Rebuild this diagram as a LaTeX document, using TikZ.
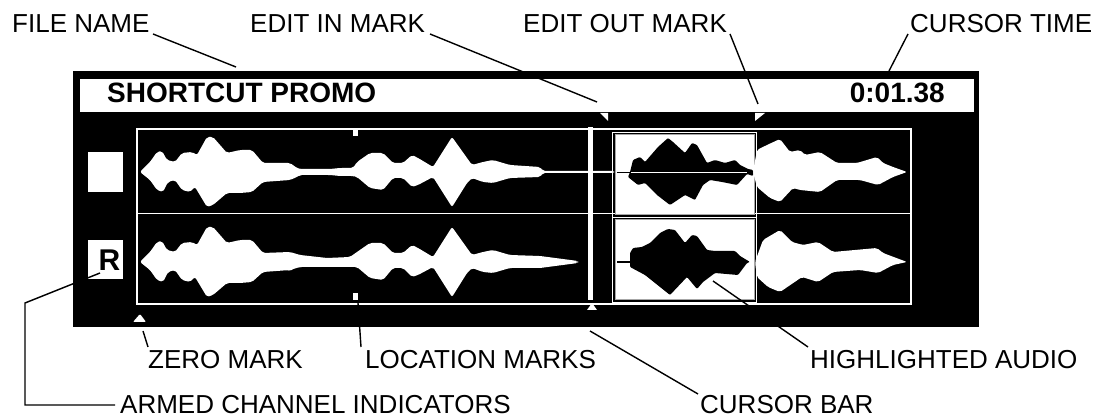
\documentclass[tikz,border=0pt]{standalone}
\usepackage{fontspec}
\setmainfont{Liberation Sans}
\begin{document}
\begin{tikzpicture}[x=1pt,y=-1pt,
  lbl/.style={font=\fontsize{26}{30}\selectfont, inner sep=0, anchor=base west},
  hdr/.style={font=\bfseries\fontsize{28}{32}\selectfont, inner sep=0},
  leader/.style={line width=1.4pt, draw=black},
  wave/.style={fill=white, draw=none, rounded corners=2pt},
  blob/.style={fill=black, draw=none, rounded corners=1pt},
  frameline/.style={draw=white, line width=1.6pt},
  hibox/.style={fill=white, draw=gray!70, line width=1pt},
  ring/.style={draw=white, line width=1pt},
  wmark/.style={fill=white, draw=none}]
\useasboundingbox (0,0) rectangle (1096,419);

% main panel
\fill[black] (73,71) rectangle (979,327);
\node[fill=white, inner sep=0, minimum width=894pt, minimum height=33pt, anchor=north west] (header) at (80,79) {};
\node[hdr, anchor=base west] (title) at (107,103) {SHORTCUT PROMO};
\node[hdr, anchor=base east] (time) at (945,103) {0:01.38};

% edit marks
\fill[wmark] (600,113) -- (608,113) -- (608,121) -- cycle;
\fill[wmark] (755,113) -- (765,113) -- (755,121) -- cycle;
\coordinate (inmark) at (597,102);
\coordinate (outmark) at (758,104);

% channel indicators
\node[fill=white, inner sep=0, minimum width=35pt, minimum height=40pt, anchor=north west] (ch1ind) at (88,152) {};
\node[fill=white, inner sep=0, minimum width=35pt, minimum height=39pt, anchor=north west] (ch2ind) at (88,240) {};
\node[font=\bfseries\fontsize{30}{34}\selectfont, inner sep=0, anchor=base] (R) at (109.5,271) {R};

% waveform frame
\draw[frameline] (137,129) rectangle (911,304);
\draw[frameline] (137,213.5) -- (911,213.5);

% location marks
\fill[wmark] (353,130) rectangle (358,136);
\fill[wmark] (353,293) rectangle (358,300);

% channel 1 waveform (left part)
\fill[wave] (140,172) -- (150,162) -- (157,152) -- (162,151) -- (167,160) -- (175,162) -- (182,153) -- (192,152) -- (197,155) -- (207,137) -- (213,137) -- (227,153) -- (240,150) -- (252,150) -- (263,163) -- (290,163) -- (297,168) -- (300,169) -- (330,169) -- (340,168) -- (353,168) -- (357,162) -- (370,153) -- (383,153) -- (393,163) -- (403,163) -- (412,155) -- (418,158) -- (433,167) -- (452,137) -- (467,158) -- (472,165) -- (483,162) -- (493,160) -- (503,163) -- (510,165) -- (540,167) -- (543,171) -- (614,171)
 -- (614,173) -- (543,173) -- (540,177) -- (510,178) -- (503,180) -- (493,183) -- (483,182) -- (472,178) -- (467,183) -- (452,207) -- (433,177) -- (418,185) -- (412,187) -- (403,178) -- (393,178) -- (383,190) -- (370,188) -- (357,177) -- (353,176) -- (340,176) -- (330,175) -- (300,175) -- (297,177) -- (290,180) -- (263,182) -- (252,192) -- (240,193) -- (227,193) -- (213,205) -- (207,207) -- (195,187) -- (190,192) -- (182,190) -- (175,180) -- (168,182) -- (163,192) -- (157,190) -- (150,180) -- cycle;
\draw[ring] (290,172) circle[radius=6];

% channel 2 waveform (left part)
\fill[wave] (140,262) -- (150,252) -- (157,242) -- (162,241) -- (167,250) -- (175,252) -- (182,243) -- (192,242) -- (197,245) -- (207,227) -- (213,227) -- (227,243) -- (240,240) -- (252,240) -- (263,253) -- (290,252) -- (300,255) -- (327,258) -- (350,257) -- (357,252) -- (370,243) -- (383,243) -- (393,253) -- (403,253) -- (412,245) -- (418,248) -- (433,257) -- (452,227) -- (467,248) -- (472,255) -- (483,252) -- (493,250) -- (503,253) -- (510,255) -- (540,256) -- (578,261)
 -- (578,263) -- (540,268) -- (510,268) -- (503,270) -- (493,273) -- (483,272) -- (472,268) -- (467,273) -- (452,297) -- (433,267) -- (418,275) -- (412,277) -- (403,268) -- (393,268) -- (383,280) -- (370,278) -- (357,267) -- (350,267) -- (327,267) -- (300,267) -- (290,270) -- (263,272) -- (252,282) -- (240,283) -- (227,283) -- (213,295) -- (207,297) -- (195,277) -- (190,282) -- (182,280) -- (175,270) -- (168,272) -- (163,282) -- (157,280) -- (150,270) -- cycle;
\draw[ring] (289,264) circle[radius=6];

% cursor bar
\fill[white] (588,127) rectangle (593,300);
\fill[wmark] (587,310) -- (597,310) -- (592,303) -- cycle;

% highlighted audio boxes
\draw[hibox] (615,135) rectangle (754,215);
\draw[hibox] (615,220) rectangle (754,300);
\draw[white, line width=0.8pt] (612.5,132.5) rectangle (756.5,217.5);
\draw[white, line width=0.8pt] (612.5,217.5) rectangle (756.5,302.5);

% channel 1 highlighted blob
\draw[black, line width=1.5pt] (617,172.5) -- (632,172.5);
\fill[blob] (630,172) -- (633,160) -- (640,157) -- (645,162) -- (658,147) -- (668,138) -- (673,142) -- (685,153) -- (692,143) -- (697,145) -- (707,163) -- (715,160) -- (725,163) -- (735,160) -- (740,165) -- (748,169) -- (753,170)
 -- (753,176) -- (747,174) -- (737,185) -- (722,182) -- (710,180) -- (703,185) -- (695,200) -- (685,195) -- (670,205) -- (657,195) -- (645,183) -- (638,185) -- (628,177) -- cycle;
\draw[white, line width=0.9pt] (631,172.5) -- (747,172.5);

% channel 2 highlighted blob
\draw[black, line width=1.5pt] (617,262) -- (632,262);
\fill[blob] (630,253) -- (633,248) -- (642,247) -- (650,243) -- (660,233) -- (668,229) -- (675,230) -- (685,243) -- (692,235) -- (697,236) -- (707,250) -- (715,251) -- (735,251) -- (740,256) -- (750,262)
 -- (747,263) -- (738,275) -- (715,273) -- (703,282) -- (697,289) -- (687,277) -- (670,295) -- (660,287) -- (645,275) -- (630,267) -- cycle;

% waveforms after highlight
\fill[wave] (753,172) -- (757,150) -- (767,145) -- (780,139) -- (790,152) -- (800,150) -- (805,155) -- (820,152) -- (837,163) -- (857,163) -- (877,157) -- (883,163) -- (893,167) -- (907,172)
 -- (893,177) -- (878,185) -- (860,180) -- (837,180) -- (820,192) -- (800,190) -- (793,188) -- (780,202) -- (770,198) -- (757,187) -- cycle;
\fill[wave] (755,262) -- (763,240) -- (780,230) -- (792,242) -- (803,245) -- (818,242) -- (833,252) -- (877,248) -- (883,253) -- (907,262)
 -- (893,265) -- (878,273) -- (860,270) -- (833,272) -- (818,282) -- (802,277) -- (780,292) -- (768,287) -- (757,277) -- cycle;

% zero mark
\fill[wmark, rounded corners=1pt] (133,322) -- (146,322) -- (140,314) -- cycle;

% labels
\node[lbl] (filename) at (12,33) {FILE NAME};
\node[lbl] (editin) at (250,33) {EDIT IN MARK};
\node[lbl] (editout) at (523,33) {EDIT OUT MARK};
\node[lbl] (cursortime) at (910,33) {CURSOR TIME};
\node[lbl] (zero) at (148,369) {ZERO MARK};
\node[lbl] (location) at (365,369) {LOCATION MARKS};
\node[lbl] (highlighted) at (810,369) {HIGHLIGHTED AUDIO};
\node[lbl] (armed) at (120,414) {ARMED CHANNEL INDICATORS};
\node[lbl] (cursorbar) at (700,414) {CURSOR BAR};

% leader end points
\coordinate (fnA) at (153,34);  \coordinate (fnB) at (236,67);
\coordinate (eiA) at (430,34);
\coordinate (eoA) at (730,34);
\coordinate (ctA) at (908,34);  \coordinate (ctB) at (889,71);
\coordinate (zmA) at (143,331); \coordinate (zmB) at (148,347);
\coordinate (lmA) at (358,303); \coordinate (lmB) at (361,347);
\coordinate (haA) at (713,281); \coordinate (haB) at (808,347);
\coordinate (cbA) at (590,331); \coordinate (cbB) at (698,394);
\coordinate (acA) at (100,273); \coordinate (acB) at (25,303);
\coordinate (acC) at (25,405);  \coordinate (acD) at (115,405);

\draw[leader] (fnA) -- (fnB);
\draw[leader] (eiA) -- (inmark);
\draw[leader] (eoA) -- (outmark);
\draw[leader] (ctA) -- (ctB);
\draw[leader] (zmA) -- (zmB);
\draw[leader] (lmA) -- (lmB);
\draw[leader] (haA) -- (haB);
\draw[leader] (cbA) -- (cbB);
\draw[leader] (acA) -- (acB) -- (acC) -- (acD);
\end{tikzpicture}
\end{document}
